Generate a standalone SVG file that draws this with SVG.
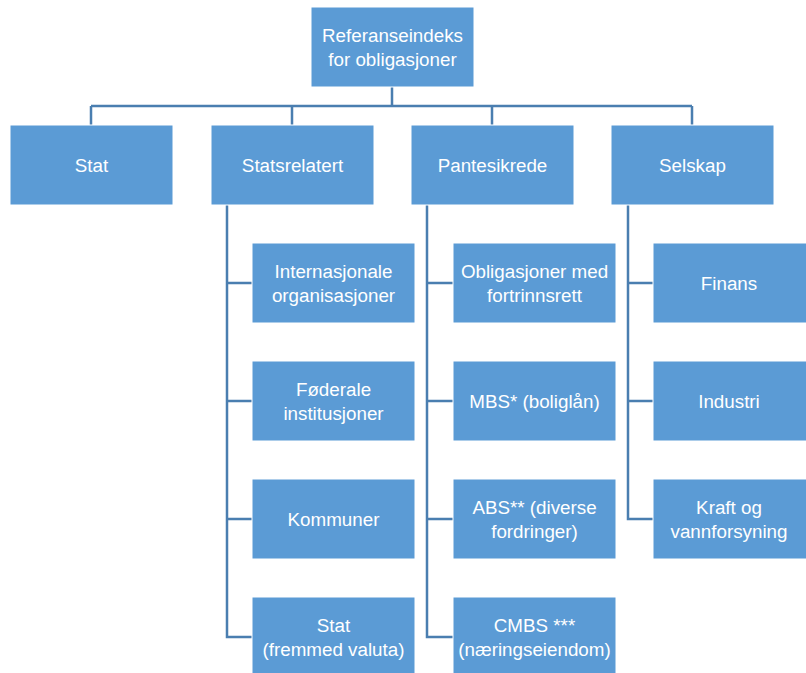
<svg xmlns="http://www.w3.org/2000/svg" width="806" height="673" viewBox="0 0 806 673">
<style>
.box{fill:#5B9BD5;stroke:#ffffff;stroke-width:1}
.t{font-family:"Liberation Sans","Open Sans",Arial,sans-serif;font-size:18.8px;fill:#ffffff;text-anchor:middle}
.c{fill:none;stroke:#4A7EB0;stroke-width:2.5}
</style>
<rect width="806" height="673" fill="#ffffff"/>
<g id="connectors">
<path class="c" d="M392,87 V106 M91,106 H692 M91,106 V125 M292,106 V125 M492,106 V125 M692,106 V125"/>
<path class="c" d="M227,205 V637 H252 M227,283 H252 M227,401 H252 M227,519 H252"/>
<path class="c" d="M427,205 V637 H453 M427,283 H453 M427,401 H453 M427,519 H453"/>
<path class="c" d="M628,205 V519 H653 M628,283 H653 M628,401 H653"/>
</g>
<g id="root"><rect class="box" x="311" y="7" width="163" height="80"/><text class="t" x="392.5" y="42">Referanseindeks</text><text class="t" x="392.5" y="66">for obligasjoner</text></g>
<g id="stat"><rect class="box" x="10" y="125" width="163" height="80"/><text class="t" x="91.5" y="172">Stat</text></g>
<g id="statsrelatert"><rect class="box" x="211" y="125" width="163" height="80"/><text class="t" x="292.5" y="172">Statsrelatert</text></g>
<g id="pantesikrede"><rect class="box" x="411" y="125" width="163" height="80"/><text class="t" x="492.5" y="172">Pantesikrede</text></g>
<g id="selskap"><rect class="box" x="611" y="125" width="163" height="80"/><text class="t" x="692.5" y="172">Selskap</text></g>
<g id="internasjonale"><rect class="box" x="252" y="243" width="163" height="80"/><text class="t" x="333.5" y="278">Internasjonale</text><text class="t" x="333.5" y="302">organisasjoner</text></g>
<g id="foderale"><rect class="box" x="252" y="361" width="163" height="80"/><text class="t" x="333.5" y="396">Føderale</text><text class="t" x="333.5" y="420">institusjoner</text></g>
<g id="kommuner"><rect class="box" x="252" y="479" width="163" height="80"/><text class="t" x="333.5" y="526">Kommuner</text></g>
<g id="statvaluta"><rect class="box" x="252" y="597" width="163" height="80"/><text class="t" x="333.5" y="632">Stat</text><text class="t" x="333.5" y="656">(fremmed valuta)</text></g>
<g id="obligasjoner"><rect class="box" x="453" y="243" width="163" height="80"/><text class="t" x="534.5" y="278">Obligasjoner med</text><text class="t" x="534.5" y="302">fortrinnsrett</text></g>
<g id="mbs"><rect class="box" x="453" y="361" width="163" height="80"/><text class="t" x="534.5" y="408">MBS* (boliglån)</text></g>
<g id="abs"><rect class="box" x="453" y="479" width="163" height="80"/><text class="t" x="534.5" y="514">ABS** (diverse</text><text class="t" x="534.5" y="538">fordringer)</text></g>
<g id="cmbs"><rect class="box" x="453" y="597" width="163" height="80"/><text class="t" x="534.5" y="632">CMBS ***</text><text class="t" x="534.5" y="656">(næringseiendom)</text></g>
<g id="finans"><rect class="box" x="653" y="243" width="163" height="80"/><text class="t" x="729" y="290">Finans</text></g>
<g id="industri"><rect class="box" x="653" y="361" width="163" height="80"/><text class="t" x="729" y="408">Industri</text></g>
<g id="kraft"><rect class="box" x="653" y="479" width="163" height="80"/><text class="t" x="729" y="514">Kraft og</text><text class="t" x="729" y="538">vannforsyning</text></g>
</svg>
